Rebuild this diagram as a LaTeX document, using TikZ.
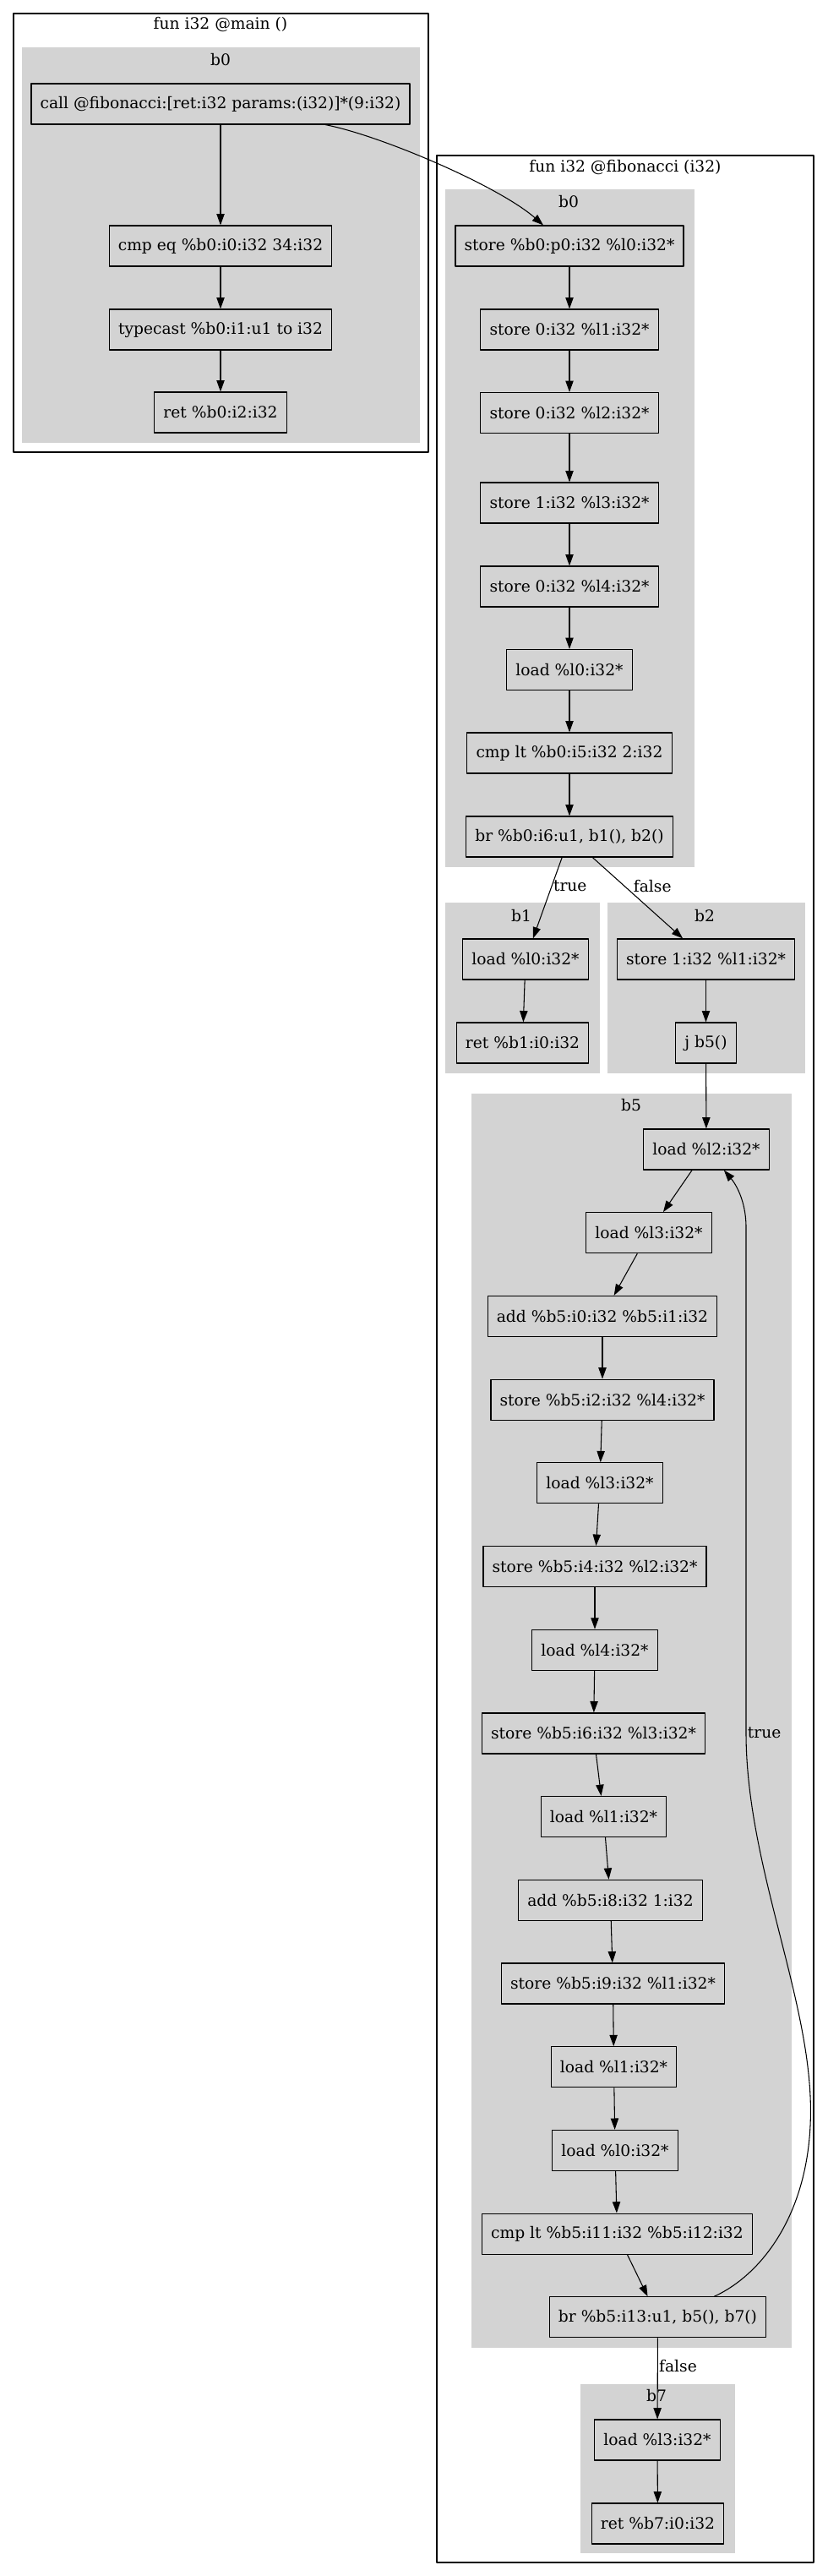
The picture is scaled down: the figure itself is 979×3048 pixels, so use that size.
\documentclass[tikz,border=0pt]{standalone}
\usepackage{fontspec}
\setmainfont{DejaVu Serif}
\usetikzlibrary{arrows.meta,calc}
\definecolor{clgray}{HTML}{D3D3D3}
\tikzset{
	ins/.style={draw, line width=.9pt, minimum height=36pt, inner xsep=8pt, inner ysep=0pt},
	blk/.style={fill=clgray},
	fnbox/.style={draw, line width=.9pt},
	arr/.style={-{Triangle[length=10pt,width=7pt]}, line width=.8pt},
	lbl/.style={inner sep=1pt}
}
\begin{document}
\begin{tikzpicture}[x=.75pt, y=-.75pt, font=\fontsize{14}{16}\selectfont, line join=round]
	\useasboundingbox (0,0) rectangle (979,3048);
	% ham main
	\draw[fnbox] (16,16) rectangle (507,535);
	\node (tmain) at (261,29) {fun i32 @main ()};
	\fill[blk] (26,56) rectangle (497,524);
	\node (lmb0) at (261,71) {b0};
	\foreach \i/\y/\t in {0/123/{call @fibonacci:[ret:i32 params:(i32)]*(9:i32)}, 1/291/{cmp eq \%b0:i0:i32 34:i32}, 2/390/{typecast \%b0:i1:u1 to i32}, 3/488/{ret \%b0:i2:i32}}
	\node[ins] (m\i) at (261,\y) {\t};
	\foreach \i [count=\j] in {0,1,2}
	\draw[arr] (m\i) -- (m\j);
	% ham fibonacci
	\draw[fnbox] (517,184) rectangle (963,3032);
	\node (tfib) at (740,198) {fun i32 @fibonacci (i32)};
	\fill[blk] (527,224) rectangle (822,1026);
	\node (lfb0) at (673,239) {b0};
	\foreach \i/\y/\t in {0/291/{store \%b0:p0:i32 \%l0:i32*}, 1/390/{store 0:i32 \%l1:i32*}, 2/488.5/{store 0:i32 \%l2:i32*}, 3/595/{store 1:i32 \%l3:i32*}, 4/694/{store 0:i32 \%l4:i32*}, 5/792.5/{load \%l0:i32*}, 6/891/{cmp lt \%b0:i5:i32 2:i32}, 7/990/{br \%b0:i6:u1, b1(), b2()}}
	\node[ins] (f\i) at (674,\y) {\t};
	\foreach \i [count=\j] in {0,...,6}
	\draw[arr] (f\i) -- (f\j);
	\draw[arr] ($(m0.south)+(124,0)$) .. controls (450,160) and (590,220) .. ($(f0.north)+(-31,0)$);
	% b1, b2
	\fill[blk] (527,1068) rectangle (710,1270);
	\fill[blk] (719,1068) rectangle (953,1270);
	\node (lb1) at (617,1084) {b1};
	\node (lb2) at (834,1084) {b2};
	\node[ins] (p0) at (622,1135) {load \%l0:i32*};
	\node[ins] (p1) at (618.5,1234) {ret \%b1:i0:i32};
	\node[ins] (r0) at (835.5,1135) {store 1:i32 \%l1:i32*};
	\node[ins] (r1) at (835.5,1234) {j b5()};
	\draw[arr] (f7) -- (p0) node[lbl, pos=.35, anchor=west] {true};
	\draw[arr] (f7) -- (r0) node[lbl, pos=.35, anchor=west, xshift=7pt] {false};
	\draw[arr] (p0) -- (p1);
	\draw[arr] (r0) -- (r1);
	% b5
	\fill[blk] (558,1294) rectangle (937,2778);
	\node (lb5) at (747,1308) {b5};
	\foreach \i/\x/\t in {0/836/{load \%l2:i32*}, 1/768/{load \%l3:i32*}, 2/713/{add \%b5:i0:i32 \%b5:i1:i32}, 3/713/{store \%b5:i2:i32 \%l4:i32*}, 4/710/{load \%l3:i32*}, 5/704/{store \%b5:i4:i32 \%l2:i32*}, 6/704/{load \%l4:i32*}, 7/702.5/{store \%b5:i6:i32 \%l3:i32*}, 8/714.5/{load \%l1:i32*}, 9/722.5/{add \%b5:i8:i32 1:i32}, 10/725.5/{store \%b5:i9:i32 \%l1:i32*}, 11/726.5/{load \%l1:i32*}, 12/728/{load \%l0:i32*}, 13/730.5/{cmp lt \%b5:i11:i32 \%b5:i12:i32}, 14/778.5/{br \%b5:i13:u1, b5(), b7()}}
	\node[ins] (q\i) at (\x,1360+98.7*\i) {\t};
	\foreach \i [count=\j] in {0,...,13}
	\draw[arr] (q\i) -- (q\j);
	\draw[arr] (r1) -- (q0);
	\draw[arr] ($(q14.north east)+(-62,0)$) .. controls (905,2690) and (965,2610) .. (959,2480) .. controls (953,2350) and (883,2200) .. (883,2050) node[lbl, anchor=west] {true} -- (883,1452) .. controls (883,1420) and (870,1400) .. ($(q0.south east)+(-54,0)$);
	% b7
	\fill[blk] (687,2821) rectangle (870,3021);
	\node (lb7) at (777,2835) {b7};
	\node[ins] (s0) at (778,2887) {load \%l3:i32*};
	\node[ins] (s1) at (778.5,2986) {ret \%b7:i0:i32};
	\draw[arr] (q14) -- (s0) node[lbl, pos=.35, anchor=west] {false};
	\draw[arr] (s0) -- (s1);
\end{tikzpicture}
\end{document}
